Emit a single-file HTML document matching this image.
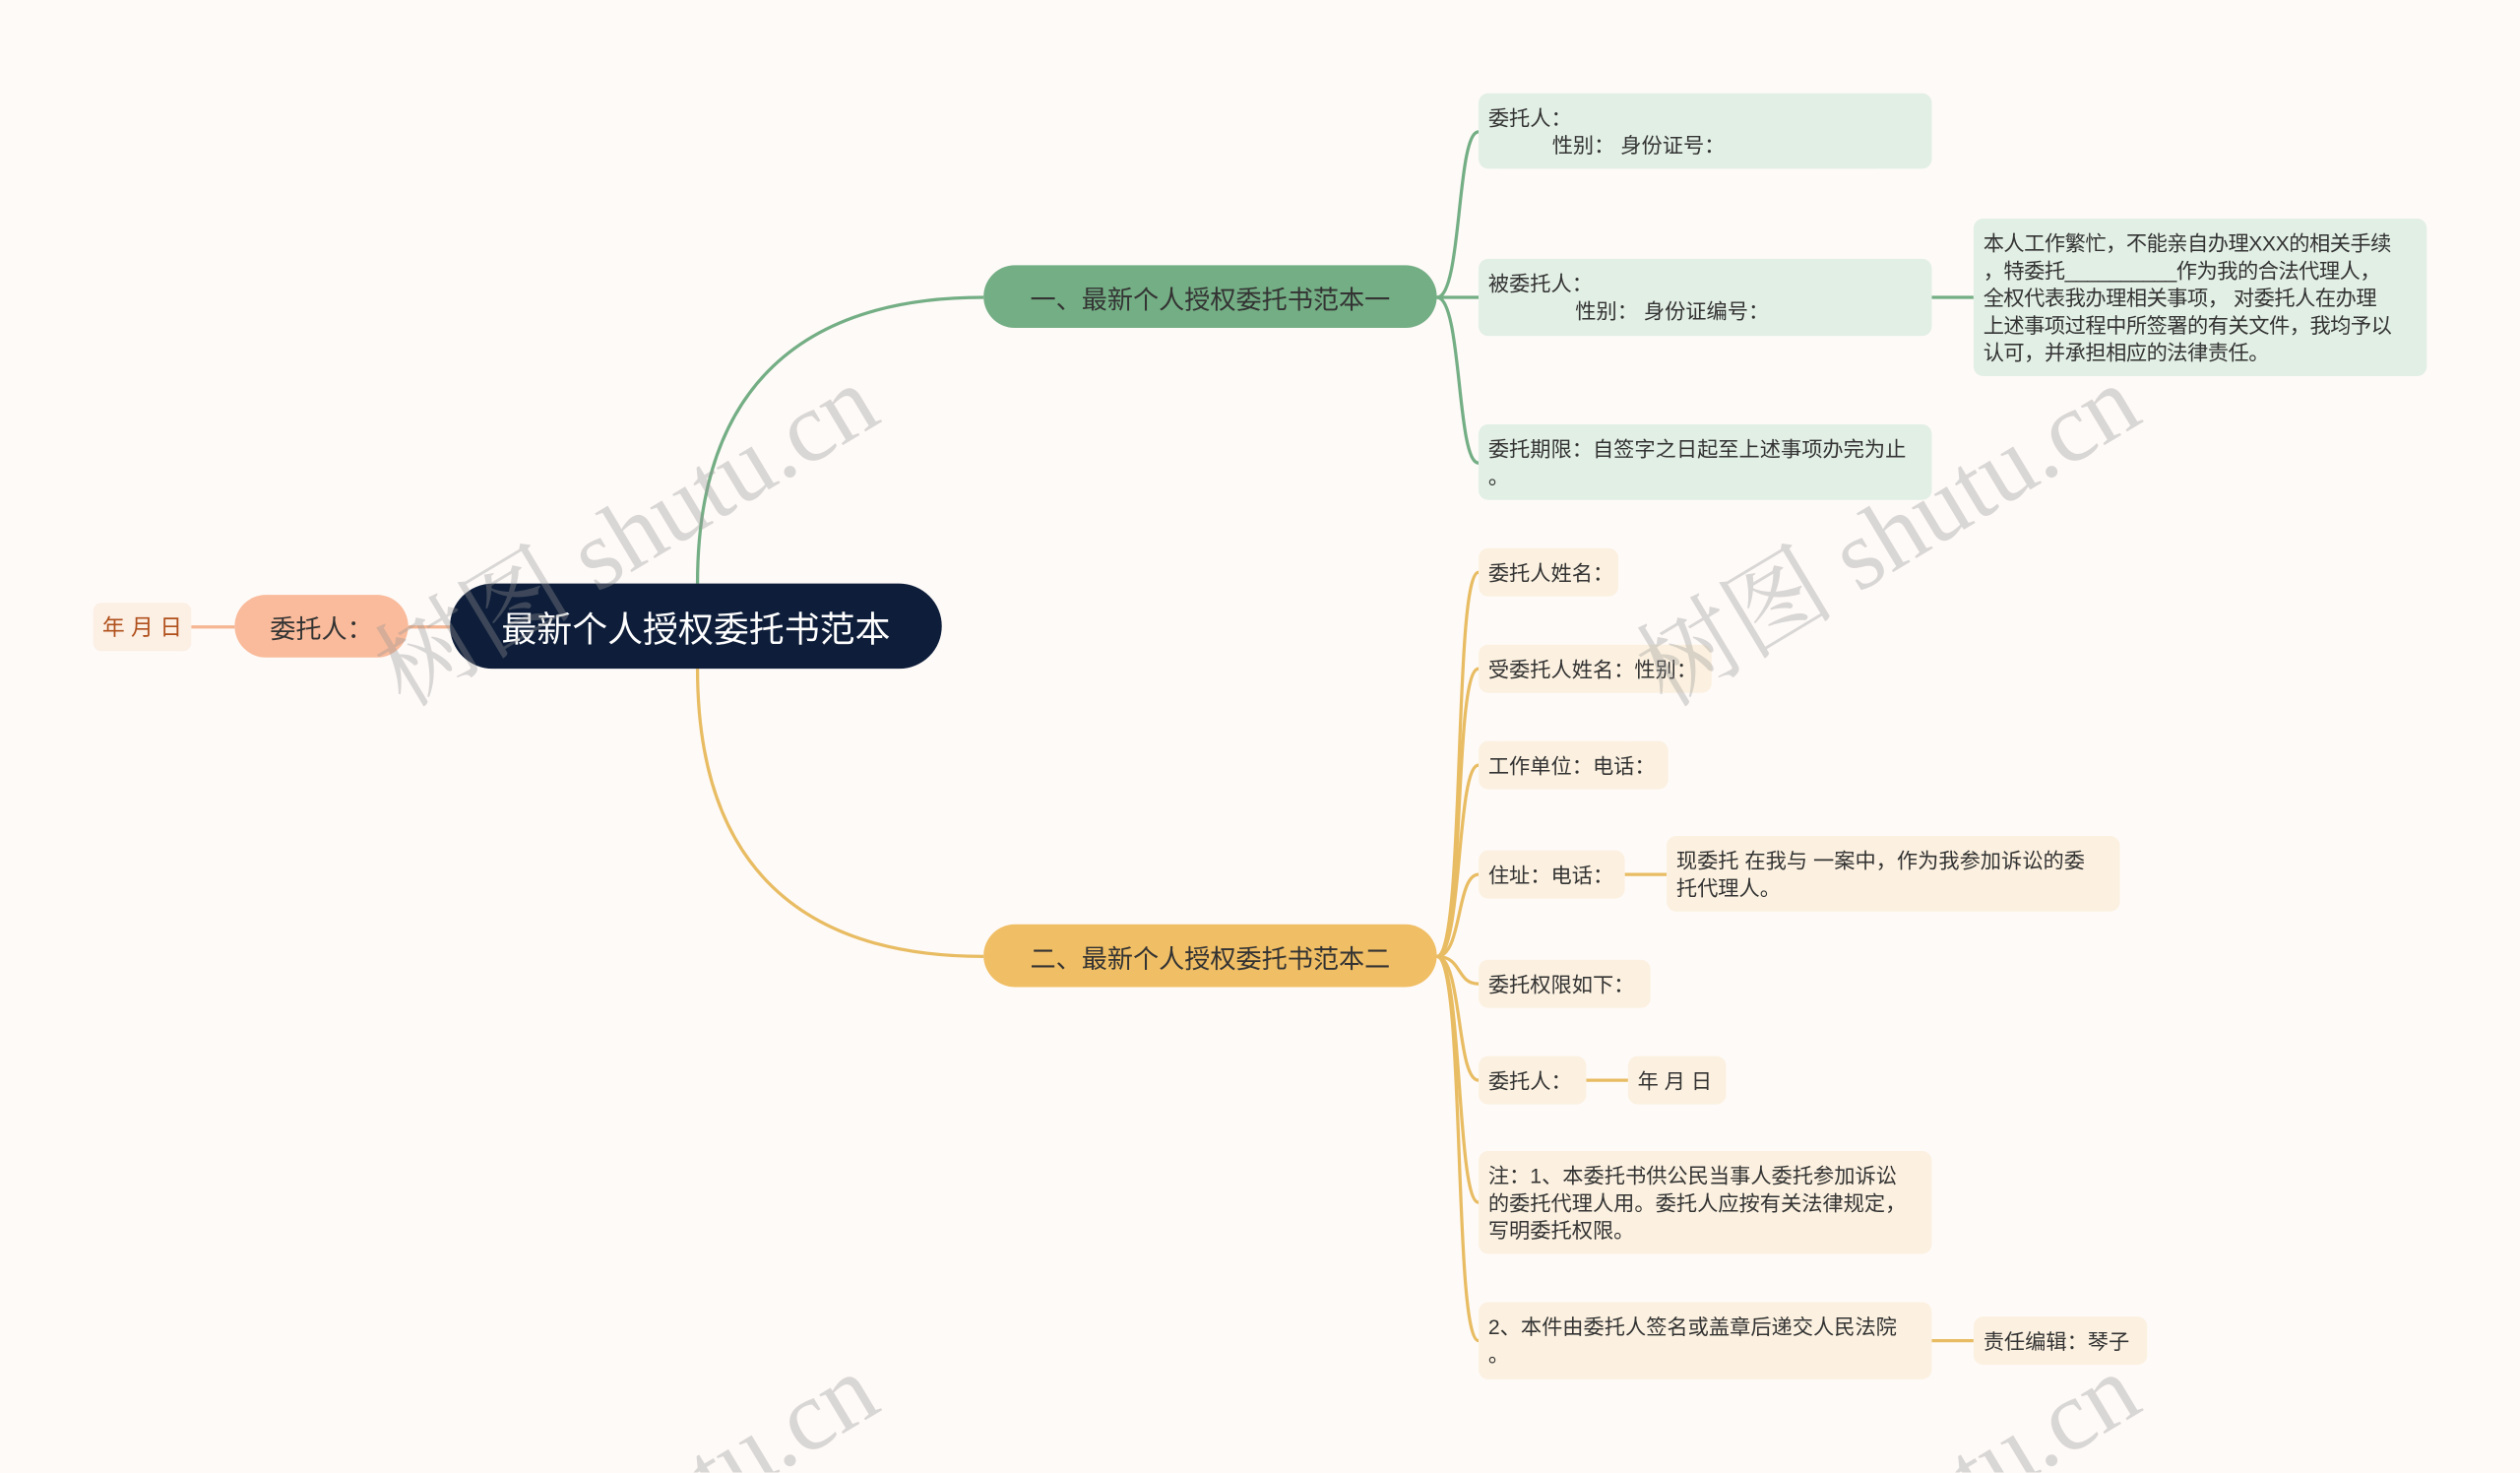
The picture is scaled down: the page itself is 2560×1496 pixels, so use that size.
<!DOCTYPE html>
<html><head><meta charset="utf-8"><style>
html,body{margin:0;padding:0;background:#fefaf8;width:2560px;height:1495px;overflow:hidden;}
#w{position:absolute;left:0;top:0;width:1568px;height:916px;transform:scale(1.63265);transform-origin:0 0;overflow:hidden;font-family:"Liberation Sans","Noto Sans CJK SC",sans-serif;}
.n{position:absolute;box-sizing:border-box;color:#333;}
.g{background:#e2efe5;border-radius:6px;font-size:13px;line-height:17px;padding:7px 6px;}
.y{background:#fcf1e0;border-radius:6px;font-size:13px;line-height:17px;padding:6px 6px;}
.c{display:flex;align-items:center;white-space:nowrap;}
.wm{position:absolute;font-family:"Liberation Serif","Noto Serif CJK SC",serif;font-size:62px;color:rgba(150,150,150,0.35);transform:rotate(-31deg);white-space:nowrap;transform-origin:0 0;}
</style></head><body><div id="w">
<svg width="1568" height="916" style="position:absolute;left:0;top:0">
<g fill="none" stroke-width="2">
<path d="M434 363 C434 240 500 185 612 185" stroke="#74ae84"/>
<path d="M434 416 C434 540 500 595 612 595" stroke="#e8bc62"/>
<path d="M254 390 L280 390" stroke="#f5b592"/>
<path d="M119 390 L146 390" stroke="#f5b592"/>
<g stroke="#74ae84">
<path d="M894 185 C910 185 906 82 920 82"/>
<path d="M894 185 L920 185"/>
<path d="M894 185 C910 185 906 288 920 288"/>
<path d="M1202 185 L1228 185"/>
</g>
<g stroke="#e8bc62">
<path d="M894 595 C912 595 904 356 920 356"/>
<path d="M894 595 C912 595 904 416 920 416"/>
<path d="M894 595 C910 595 906 476 920 476"/>
<path d="M894 595 C910 595 906 544 920 544"/>
<path d="M894 595 C910 595 906 612 920 612"/>
<path d="M894 595 C910 595 906 672 920 672"/>
<path d="M894 595 C910 595 906 748 920 748"/>
<path d="M894 595 C912 595 904 834 920 834"/>
<path d="M1011 544 L1037 544"/>
<path d="M987 672 L1013 672"/>
<path d="M1202 834 L1228 834"/>
</g></g></svg>
<div class="n c" style="left:280px;top:363px;width:306px;height:53px;background:#0e1e3a;border-radius:27px;color:#fff;font-size:22px;justify-content:center;">最新个人授权委托书范本</div>
<div class="n c" style="left:146px;top:370px;width:108px;height:39px;background:#f9bb9b;border-radius:20px;font-size:16px;justify-content:center;">委托人：</div>
<div class="n c" style="left:58px;top:375px;width:61px;height:30px;background:#fcefe4;border-radius:5px;font-size:14px;color:#b0501c;justify-content:center;">年 月 日</div>
<div class="n c" style="left:612px;top:165px;width:282px;height:39px;background:#74ae84;border-radius:20px;font-size:16px;justify-content:center;">一、最新个人授权委托书范本一</div>
<div class="n c" style="left:612px;top:575px;width:282px;height:39px;background:#f0be64;border-radius:20px;font-size:16px;justify-content:center;">二、最新个人授权委托书范本二</div>
<div class="n g" style="left:920px;top:58px;width:282px;height:47px;">委托人：<br>&nbsp;&nbsp;&nbsp;&nbsp;&nbsp;&nbsp;&nbsp;&nbsp;&nbsp;&nbsp;&nbsp;性别： 身份证号：</div>
<div class="n g" style="left:920px;top:161px;width:282px;height:48px;">被委托人：<br>&nbsp;&nbsp;&nbsp;&nbsp;&nbsp;&nbsp;&nbsp;&nbsp;&nbsp;&nbsp;&nbsp;&nbsp;&nbsp;&nbsp;&nbsp;性别： 身份证编号：</div>
<div class="n g" style="left:920px;top:264px;width:282px;height:47px;">委托期限：自签字之日起至上述事项办完为止<br>。</div>
<div class="n g" style="left:1228px;top:136px;width:282px;height:98px;letter-spacing:-0.3px;">本人工作繁忙，不能亲自办理XXX的相关手续<br>，特委托__________作为我的合法代理人，<br>全权代表我办理相关事项， 对委托人在办理<br>上述事项过程中所签署的有关文件，我均予以<br>认可，并承担相应的法律责任。</div>
<div class="n y c" style="left:920px;top:341px;width:87px;height:30px;">委托人姓名：</div>
<div class="n y c" style="left:920px;top:401px;width:145px;height:30px;">受委托人姓名：性别：</div>
<div class="n y c" style="left:920px;top:461px;width:118px;height:30px;">工作单位：电话：</div>
<div class="n y c" style="left:920px;top:529px;width:91px;height:30px;">住址：电话：</div>
<div class="n y" style="left:1037px;top:520px;width:282px;height:47px;padding-top:7px;">现委托 在我与 一案中，作为我参加诉讼的委<br>托代理人。</div>
<div class="n y c" style="left:920px;top:597px;width:107px;height:30px;">委托权限如下：</div>
<div class="n y c" style="left:920px;top:657px;width:67px;height:30px;">委托人：</div>
<div class="n y c" style="left:1013px;top:657px;width:61px;height:30px;">年 月 日</div>
<div class="n y" style="left:920px;top:716px;width:282px;height:64px;padding-top:7px;">注：1、本委托书供公民当事人委托参加诉讼<br>的委托代理人用。委托人应按有关法律规定，<br>写明委托权限。</div>
<div class="n y" style="left:920px;top:810px;width:282px;height:48px;padding-top:7px;">2、本件由委托人签名或盖章后递交人民法院<br>。</div>
<div class="n y c" style="left:1228px;top:819px;width:108px;height:30px;">责任编辑：琴子</div>
<div class="wm" style="left:215px;top:380px;">树图 shutu.cn</div>
<div class="wm" style="left:1000px;top:380px;">树图 shutu.cn</div>
<div class="wm" style="left:215px;top:995px;">树图 shutu.cn</div>
<div class="wm" style="left:1000px;top:995px;">树图 shutu.cn</div>
</div></body></html>
